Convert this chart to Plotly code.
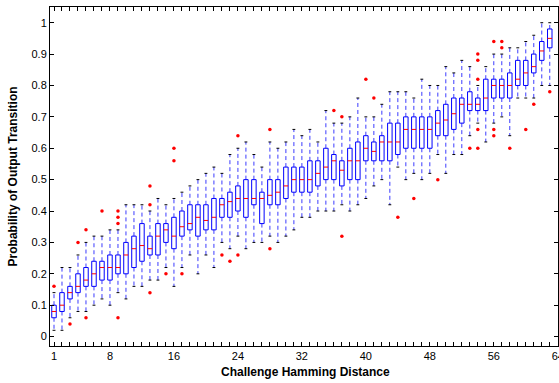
import plotly.graph_objects as go

# Challenge Hamming distance groups visible in the chart
hd = list(range(1, 64))

q1 = [0.06, 0.08, 0.12, 0.14, 0.16, 0.16, 0.18, 0.18, 0.20, 0.20,
      0.22, 0.24, 0.26, 0.26, 0.30, 0.28, 0.32, 0.34, 0.32, 0.34,
      0.34, 0.38, 0.38, 0.40, 0.38, 0.42, 0.36, 0.42, 0.42, 0.44,
      0.46, 0.46, 0.46, 0.48, 0.50, 0.50, 0.48, 0.50, 0.50, 0.56,
      0.56, 0.56, 0.56, 0.58, 0.60, 0.60, 0.60, 0.60, 0.64, 0.64,
      0.66, 0.68, 0.72, 0.72, 0.72, 0.76, 0.76, 0.76, 0.80, 0.80,
      0.84, 0.88, 0.92]
med = [0.08, 0.10, 0.14, 0.16, 0.18, 0.20, 0.22, 0.22, 0.22, 0.26,
       0.28, 0.29, 0.28, 0.32, 0.34, 0.32, 0.35, 0.36, 0.38, 0.37,
       0.38, 0.42, 0.43, 0.44, 0.44, 0.44, 0.44, 0.45, 0.46, 0.48,
       0.50, 0.50, 0.50, 0.52, 0.54, 0.56, 0.53, 0.56, 0.56, 0.60,
       0.59, 0.62, 0.62, 0.62, 0.66, 0.66, 0.66, 0.66, 0.68, 0.69,
       0.71, 0.74, 0.74, 0.74, 0.76, 0.80, 0.80, 0.80, 0.82, 0.84,
       0.86, 0.91, 0.95]
q3 = [0.10, 0.14, 0.16, 0.20, 0.22, 0.24, 0.24, 0.26, 0.26, 0.30,
      0.32, 0.36, 0.32, 0.36, 0.36, 0.38, 0.40, 0.42, 0.42, 0.42,
      0.44, 0.44, 0.46, 0.48, 0.50, 0.50, 0.46, 0.50, 0.50, 0.54,
      0.54, 0.54, 0.56, 0.56, 0.60, 0.58, 0.56, 0.60, 0.62, 0.64,
      0.62, 0.64, 0.68, 0.68, 0.70, 0.70, 0.70, 0.70, 0.72, 0.74,
      0.76, 0.76, 0.78, 0.76, 0.82, 0.82, 0.82, 0.84, 0.88, 0.88,
      0.90, 0.94, 0.98]
whisker_lo = [0.02, 0.02, 0.06, 0.08, 0.08, 0.10, 0.12, 0.10, 0.14, 0.12,
              0.16, 0.16, 0.18, 0.18, 0.22, 0.16, 0.22, 0.26, 0.20, 0.26,
              0.22, 0.30, 0.28, 0.32, 0.28, 0.30, 0.30, 0.32, 0.30, 0.32,
              0.34, 0.38, 0.38, 0.40, 0.40, 0.40, 0.42, 0.40, 0.42, 0.44,
              0.48, 0.50, 0.42, 0.54, 0.50, 0.52, 0.50, 0.52, 0.58, 0.52,
              0.58, 0.58, 0.64, 0.68, 0.62, 0.68, 0.70, 0.64, 0.76, 0.76,
              0.76, 0.80, 0.80]
whisker_hi = [0.14, 0.22, 0.22, 0.26, 0.30, 0.32, 0.32, 0.34, 0.34, 0.42,
              0.42, 0.42, 0.40, 0.44, 0.42, 0.44, 0.46, 0.48, 0.50, 0.52,
              0.54, 0.52, 0.58, 0.60, 0.62, 0.58, 0.54, 0.62, 0.60, 0.62,
              0.66, 0.64, 0.66, 0.62, 0.72, 0.68, 0.68, 0.70, 0.76, 0.70,
              0.70, 0.74, 0.78, 0.78, 0.78, 0.76, 0.82, 0.80, 0.80, 0.86,
              0.84, 0.88, 0.86, 0.80, 0.86, 0.90, 0.90, 0.92, 0.92, 0.94,
              0.96, 1.00, 1.00]

# Outliers (group, value)
out_x = [1, 3, 4, 5, 5, 7, 9, 9, 9, 9,
         13, 13, 13, 15, 16, 16, 17, 22, 23, 24,
         24, 28, 28, 36, 37, 37, 40, 41, 44, 46,
         49, 53, 54, 54, 54, 54, 54, 56, 56, 56,
         57, 57, 58, 60, 61, 63]
out_y = [0.16, 0.04, 0.30, 0.34, 0.06, 0.40, 0.40, 0.38, 0.36, 0.06,
         0.48, 0.42, 0.14, 0.20, 0.60, 0.56, 0.20, 0.26, 0.24, 0.64,
         0.26, 0.66, 0.28, 0.72, 0.70, 0.32, 0.82, 0.76, 0.38, 0.44,
         0.50, 0.60, 0.90, 0.88, 0.82, 0.66, 0.60, 0.94, 0.66, 0.64,
         0.94, 0.92, 0.60, 0.66, 0.74, 0.78]

x_tick_vals = [1, 8, 16, 24, 32, 40, 48, 56, 64]
x_tick_text = ["1", "8", "16", "24", "32", "40", "48", "56", "64"]
y_tick_vals = [0, 0.1, 0.2, 0.3, 0.4, 0.5, 0.6, 0.7, 0.8, 0.9, 1.0]
y_tick_text = ["0", "0.1", "0.2", "0.3", "0.4", "0.5", "0.6", "0.7", "0.8", "0.9", "1"]

BW = 0.28   # box half width (data units)
CW = 0.18   # whisker cap half width

wx, wy, bx, by, cx, cy, mx, my = [], [], [], [], [], [], [], []
for i, x in enumerate(hd):
    wx += [x, x, None, x, x, None]
    wy += [q3[i], whisker_hi[i], None, q1[i], whisker_lo[i], None]
    bx += [x - BW, x + BW, x + BW, x - BW, x - BW, None]
    by += [q1[i], q1[i], q3[i], q3[i], q1[i], None]
    cx += [x - CW, x + CW, None, x - CW, x + CW, None]
    cy += [whisker_hi[i], whisker_hi[i], None, whisker_lo[i], whisker_lo[i], None]
    mx += [x - BW, x + BW, None]
    my += [med[i], med[i], None]

fig = go.Figure()
fig.add_trace(go.Scatter(x=wx, y=wy, mode="lines", hoverinfo="skip",
                         line=dict(color="#3c3cff", width=1, dash="4px,3px")))
fig.add_trace(go.Scatter(x=cx, y=cy, mode="lines", hoverinfo="skip",
                         line=dict(color="black", width=1)))
fig.add_trace(go.Scatter(x=bx, y=by, mode="lines", hoverinfo="skip",
                         line=dict(color="#0000ff", width=1)))
fig.add_trace(go.Scatter(x=mx, y=my, mode="lines", hoverinfo="skip",
                         line=dict(color="#ff0000", width=1)))
fig.add_trace(go.Scatter(x=out_x, y=out_y, mode="markers", hoverinfo="skip",
                         marker=dict(color="#ff0000", size=3.5, symbol="circle",
                                     line=dict(width=0))))

font_family = "Liberation Sans, Arial, Helvetica, sans-serif"
fig.update_layout(
    width=559, height=383,
    margin=dict(l=50, r=1, t=7, b=37, autoexpand=False),
    paper_bgcolor="white", plot_bgcolor="white",
    showlegend=False,
    font=dict(family=font_family, size=11, color="black"),
    annotations=[
        dict(text="<b>Challenge Hamming Distance</b>", xref="paper", yref="paper",
             x=0.502, y=-0.077, xanchor="center", yanchor="middle",
             showarrow=False, font=dict(size=12)),
        dict(text="<b>Probability of Output Transition</b>", xref="paper", yref="paper",
             x=-0.073, y=0.50, xanchor="center", yanchor="middle", textangle=-90,
             showarrow=False, font=dict(size=12)),
    ],
)
fig.update_xaxes(
    range=[0.5, 64.03], automargin=False, ticklabeloverflow="allow",
    tickmode="array", tickvals=x_tick_vals, ticktext=x_tick_text,
    ticks="inside", ticklen=4, tickcolor="black", tickwidth=1,
    minor=dict(tickmode="array", tickvals=list(range(1, 65)), ticks="inside",
               ticklen=4, tickcolor="black", tickwidth=1),
    showline=True, linecolor="black", linewidth=1, mirror="allticks",
    showgrid=False, zeroline=False,
    tickfont=dict(size=11),
)
fig.update_yaxes(
    range=[-0.03, 1.05], automargin=False,
    tickmode="array", tickvals=y_tick_vals, ticktext=y_tick_text,
    ticks="inside", ticklen=4, tickcolor="black", tickwidth=1,
    showline=True, linecolor="black", linewidth=1, mirror="allticks",
    showgrid=False, zeroline=False,
    tickfont=dict(size=11),
)

fig.write_html("out.html", config={"displayModeBar": False},
               post_script="document.body.style.margin='0';document.body.style.overflow='hidden';")
